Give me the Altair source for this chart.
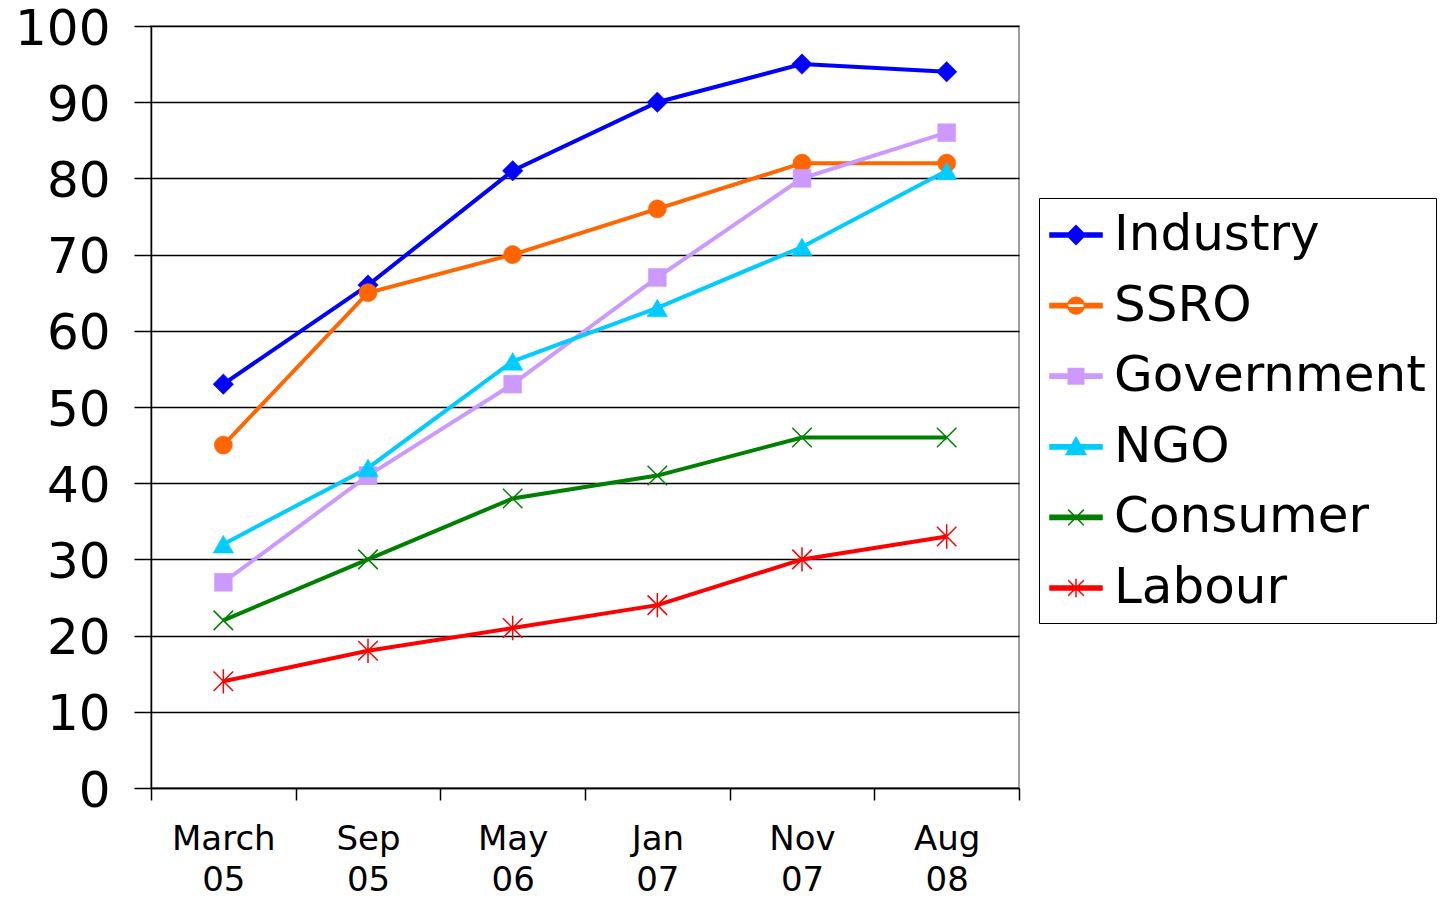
import altair as alt
import pandas as pd

# ---- data ----
periods = ["March 05", "Sep 05", "May 06", "Jan 07", "Nov 07", "Aug 08"]
series_names = ["Industry", "SSRO", "Government", "NGO", "Consumer", "Labour"]
industry = [53, 66, 81, 90, 95, 94]
ssro = [45, 65, 70, 76, 82, 82]
government = [27, 41, 53, 67, 80, 86]
ngo = [32, 42, 56, 63, 71, 81]
consumer = [22, 30, 38, 41, 46, 46]
labour = [14, 18, 21, 24, 30, 33]
y_ticks = [0, 10, 20, 30, 40, 50, 60, 70, 80, 90, 100]

colors = ["#0000FF", "#FF6600", "#CC99FF", "#00CCFF", "#008000", "#FF0000"]

values_by_series = [industry, ssro, government, ngo, consumer, labour]
rows = []
for name, vals in zip(series_names, values_by_series):
    for p, v in zip(periods, vals):
        rows.append({"period": p, "series": name, "value": v})
df = pd.DataFrame(rows)

# ---- marker styles ----
diamond = "M0,-1L1,0L0,1L-1,0Z"
xcross = "M-1,-1L1,1M-1,1L1,-1"
star = "M-1,-1L1,1M-1,1L1,-1M0,-1.25L0,1.25"
markers = [
    (diamond, 420, True),
    ("circle", 330, True),
    ("square", 320, True),
    ("triangle-up", 420, True),
    (xcross, 380, False),
    (star, 380, False),
]

bar = "M-1,-0.08H1V0.08H-1Z"
legend_paths = [
    bar + "M0,-0.36L0.36,0L0,0.36L-0.36,0Z",
    bar + "M-0.32,0A0.32,0.32 0 1,0 0.32,0A0.32,0.32 0 1,0 -0.32,0Z",
    bar + "M-0.3,-0.3H0.3V0.3H-0.3Z",
    bar + "M0,-0.36L0.38,0.3H-0.38Z",
    bar + "M-0.3,-0.3L0.3,0.3M-0.3,0.3L0.3,-0.3",
    bar + "M-0.3,-0.3L0.3,0.3M-0.3,0.3L0.3,-0.3M0,-0.36V0.36",
]

leg = alt.Legend(
    title=None,
    orient="none",
    legendX=888,
    legendY=172,
    labelFont="DejaVu Sans",
    labelFontSize=50,
    labelColor="black",
    labelLimit=1000,
    labelOffset=11,
    symbolSize=2704,
    symbolStrokeWidth=1.5,
    symbolOpacity=1,
    rowPadding=18.6,
    padding=10,
    strokeColor="black",
    fillColor="white",
)

color_scale = alt.Scale(domain=series_names, range=colors)

x_enc = alt.X(
    "period:N",
    sort=periods,
    title=None,
    bandPosition=0.5,
    scale=alt.Scale(type="band", paddingInner=0, paddingOuter=0),
    axis=alt.Axis(
        tickBand="extent",
        labelExpr="split(datum.label, ' ')",
        labelFont="DejaVu Sans",
        labelFontSize=34,
        labelLineHeight=41,
        labelPadding=22,
        labelAngle=0,
        labelColor="black",
        tickSize=12,
        tickColor="black",
        tickWidth=1.5,
        domainColor="black",
        domainWidth=1.5,
        grid=False,
    ),
)
y_enc = alt.Y(
    "value:Q",
    title=None,
    scale=alt.Scale(domain=[0, 100], nice=False),
    axis=alt.Axis(
        values=y_ticks,
        labelFont="DejaVu Sans",
        labelFontSize=50,
        labelColor="black",
        labelPadding=24,
        labelOffset=3,
        tickSize=17,
        tickColor="black",
        tickWidth=1.5,
        domainColor="black",
        domainWidth=1.5,
        grid=True,
        gridColor="black",
        gridWidth=1.5,
    ),
)
stroke_enc = alt.Stroke("series:N", scale=color_scale, sort=series_names, legend=leg)
fill_enc = alt.Fill("series:N", scale=color_scale, sort=series_names, legend=leg)
shape_enc = alt.Shape(
    "series:N",
    scale=alt.Scale(domain=series_names, range=legend_paths),
    sort=series_names,
    legend=leg,
)

base = alt.Chart(df)

layers = [base.mark_line(strokeWidth=4).encode(x=x_enc, y=y_enc, stroke=stroke_enc)]
for name, (shape, size, filled) in zip(series_names, markers):
    layers.append(
        base.transform_filter(alt.datum.series == name)
        .mark_point(shape=shape, size=size, strokeWidth=(0.5 if filled else 1.5), opacity=1)
        .encode(x=x_enc, y=y_enc, stroke=stroke_enc, fill=fill_enc)
    )
# legend-only layer (no marks drawn)
layers.append(
    base.transform_filter("false")
    .mark_point()
    .encode(x=x_enc, y=y_enc, shape=shape_enc, stroke=stroke_enc, fill=fill_enc)
)

chart = (
    alt.layer(*layers)
    .properties(
        width=868,
        height=762,
        autosize=alt.AutoSizeParams(type="none"),
        padding={"left": 143, "top": 18, "right": 420, "bottom": 113},
    )
    .configure_view(stroke="#808080", strokeWidth=1.5)
)

chart.save("out.html", embed_options={"renderer": "svg", "actions": False})
